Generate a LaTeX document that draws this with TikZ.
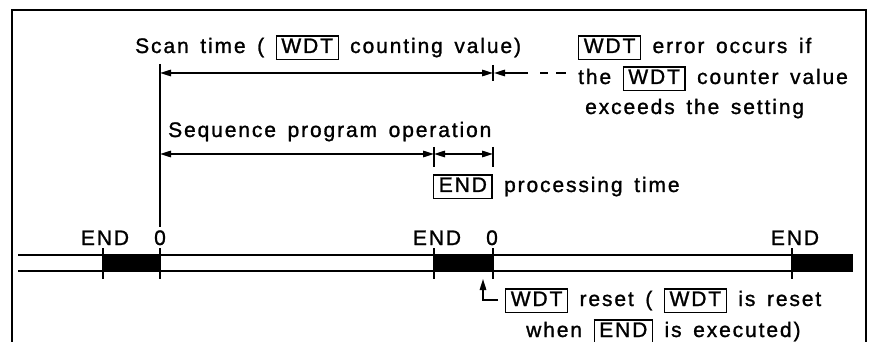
\documentclass[tikz,border=0pt]{standalone}
\usepackage{fontspec}
\setmainfont{Liberation Sans}[LetterSpace=9,WordSpace=1.5,FakeBold=1.2]
\usetikzlibrary{arrows.meta}
\newcommand\kbox[1]{{\setlength\fboxsep{2pt}\setlength\fboxrule{1.1pt}\fbox{\rule[-4pt]{0pt}{18pt}\kern2.5pt#1\kern2.5pt}}}
\begin{document}
\begin{tikzpicture}[x=1pt,y=-1pt,
  txt/.style={anchor=base west,inner sep=0pt,font=\fontsize{21}{25}\selectfont},
  lbl/.style={anchor=base,inner sep=0pt,font=\fontsize{21}{25}\selectfont},
  tip/.tip={Triangle[length=11pt,width=6.5pt]},
  dim/.style={line width=1.5pt,tip-tip},
  onearrow/.style={line width=1.5pt,-tip},
  thin/.style={line width=1.5pt},
  tickmark/.style={line width=2pt},
  rail/.style={line width=2.2pt},
  frameline/.style={line width=2.5pt}]
\useasboundingbox (0,0) rectangle (871,342);
% frame
\coordinate (fbl) at (12,342); \coordinate (ftl) at (12,10);
\coordinate (ftr) at (866,10); \coordinate (fbr) at (866,342);
\draw[frameline] (fbl) -- (ftl) -- (ftr) -- (fbr);
% texts
\node[txt] (scan) at (135,53) {Scan time ( \kbox{WDT} counting value)};
\node[txt] (err1) at (578,53) {\kbox{WDT} error occurs if};
\node[txt] (err2) at (578,84) {the \kbox{WDT} counter value};
\node[txt] (err3) at (585,114) {exceeds the setting};
\node[txt] (seq) at (168,137) {Sequence program operation};
\node[txt] (endp) at (433,192) {\kbox{END} processing time};
\node[txt] (rst1) at (505,306) {\kbox{WDT} reset ( \kbox{WDT} is reset};
\node[txt] (rst2) at (526,337) {when \kbox{END} is executed)};
% timeline labels
\node[lbl] (e1) at (105,245) {END};
\node[lbl] (z1) at (160,245) {0};
\node[lbl] (e2) at (437,245) {END};
\node[lbl] (z2) at (492,245) {0};
\node[lbl] (e3) at (795,245) {END};
% timeline rails
\coordinate (rtl) at (18,255); \coordinate (rtr) at (852,255);
\coordinate (rbl) at (18,271); \coordinate (rbr) at (852,271);
\draw[rail] (rtl) -- (rtr);
\draw[rail] (rbl) -- (rbr);
\fill (103,255) rectangle (160,271);
\fill (434,255) rectangle (493,271);
\fill (792,254) rectangle (853,272);
\foreach \x/\n in {103/a,160/b,434/c,493/d,792/e}{
  \coordinate (t\n1) at (\x,248); \coordinate (t\n2) at (\x,279);
  \draw[tickmark] (t\n1) -- (t\n2);
}
% scan-time arrow
\coordinate (v0) at (160,64); \coordinate (v1) at (160,227);
\draw[thin] (v0) -- (v1);
\coordinate (s0) at (160,73); \coordinate (s1) at (493,73);
\draw[dim] (s0) -- (s1);
\coordinate (sk0) at (493,65); \coordinate (sk1) at (493,81);
\draw[thin] (sk0) -- (sk1);
\coordinate (w0) at (528,73); \coordinate (w1) at (494,73);
\draw[onearrow] (w0) -- (w1);
\coordinate (d0) at (540,73); \coordinate (d1) at (548,73);
\coordinate (d2) at (556,73); \coordinate (d3) at (566,73);
\draw[thin] (d0) -- (d1); \draw[thin] (d2) -- (d3);
% sequence arrows
\coordinate (q0) at (160,154); \coordinate (q1) at (434,154); \coordinate (q2) at (493,154);
\draw[dim] (q0) -- (q1);
\draw[dim] (q1) -- (q2);
\coordinate (qk0) at (434,147); \coordinate (qk1) at (434,167);
\coordinate (qk2) at (493,147); \coordinate (qk3) at (493,167);
\draw[thin] (qk0) -- (qk1); \draw[thin] (qk2) -- (qk3);
% reset arrow
\coordinate (r0) at (498,300); \coordinate (r1) at (483,300); \coordinate (r2) at (483,279);
\draw[onearrow] (r0) -- (r1) -- (r2);
\end{tikzpicture}
\end{document}
